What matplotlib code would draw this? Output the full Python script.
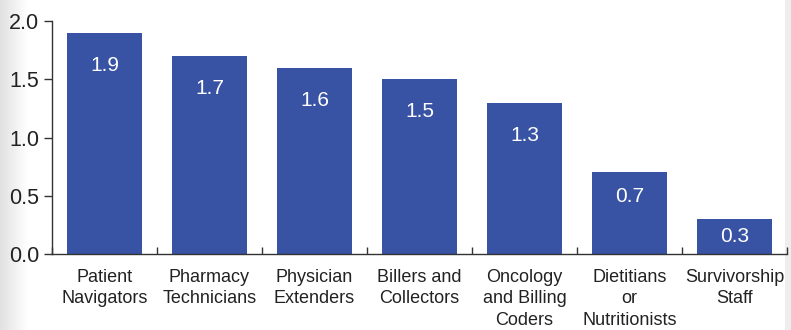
import numpy as np
import matplotlib
matplotlib.use("Agg")
import matplotlib.pyplot as plt

categories = ["Patient\nNavigators", "Pharmacy\nTechnicians", "Physician\nExtenders",
              "Billers and\nCollectors", "Oncology\nand Billing\nCoders",
              "Dietitians\nor\nNutritionists", "Survivorship\nStaff"]
values = [1.9, 1.7, 1.6, 1.5, 1.3, 0.7, 0.3]
yticks = [0.0, 0.5, 1.0, 1.5, 2.0]

bar_color = "#3953a4"
plt.rcParams["font.family"] = ["Liberation Sans", "DejaVu Sans"]

fig = plt.figure(figsize=(7.91, 3.30), dpi=100)

# soft gray edge on the left and right of the canvas
bg = fig.add_axes([0, 0, 1, 1], zorder=-10)
w = 791
left = np.clip(np.arange(w) / 28.0, 0, 1)
grad = 0.88 + 0.12 * left
grad[785:] = 0.93
bg.imshow(np.tile(grad, (10, 1)), cmap="gray", vmin=0, vmax=1, aspect="auto",
          extent=[0, 1, 0, 1])
bg.set_axis_off()

ax = fig.add_axes([52 / 791, 76 / 330, 735 / 791, 233 / 330])
ax.patch.set_alpha(0)
x = np.arange(len(values))
ax.bar(x, values, width=0.72, color=bar_color, zorder=2)


def label_offset(v):
    # value labels sit near the top of tall bars, centred in short ones
    if v < 0.5:
        return v / 2
    if v < 1.0:
        return 0.21
    return 0.28


for xi, v in zip(x, values):
    ax.text(xi, v - label_offset(v), f"{v:.1f}", ha="center", va="center",
            color="white", fontsize=15)

ax.set_xlim(-0.5, len(values) - 0.5)
ax.set_ylim(0, 2.0)
ax.set_yticks(yticks)
ax.set_yticklabels([f"{t:.1f}" for t in yticks], fontsize=15.5, color="#222222")
ax.tick_params(axis="y", direction="out", length=6, width=1, color="#333333", pad=3)

ax.set_xticks(np.arange(len(values) + 1) - 0.5)
ax.set_xticklabels([""] * (len(values) + 1))
ax.tick_params(axis="x", direction="in", length=5, width=1, color="#333333")
ax.set_xticks(x, minor=True)
ax.set_xticklabels(categories, minor=True, fontsize=13, color="#222222",
                   linespacing=1.32, va="top")
ax.tick_params(axis="x", which="minor", length=0, pad=11)

for s in ["top", "right"]:
    ax.spines[s].set_visible(False)
for s in ["left", "bottom"]:
    ax.spines[s].set_color("#333333")
    ax.spines[s].set_linewidth(1)

fig.savefig("out.png", dpi=100)
